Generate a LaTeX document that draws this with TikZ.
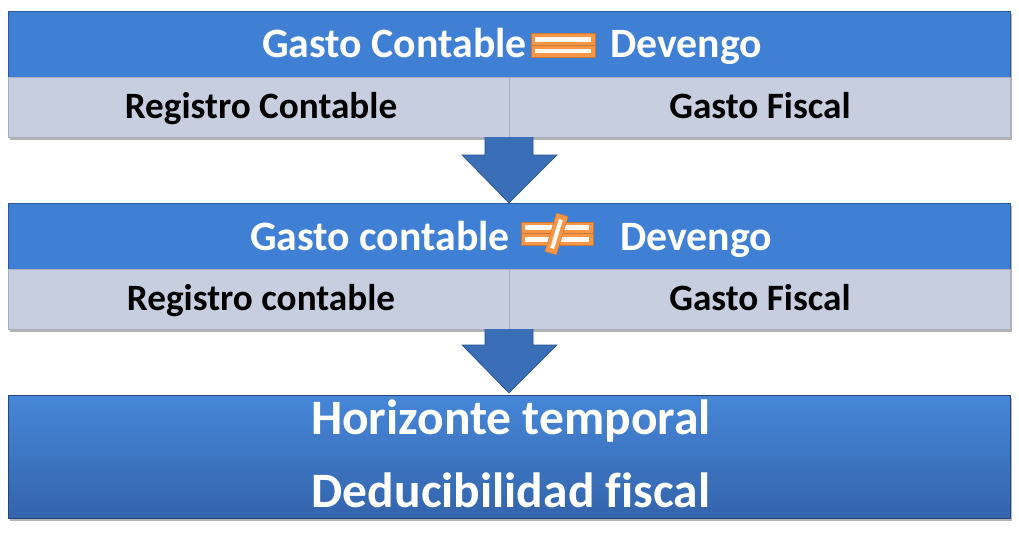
\documentclass[tikz,border=0pt]{standalone}
\usepackage{fontspec}
\setmainfont{Carlito}[Ligatures=NoCommon]
\definecolor{hblue}{RGB}{64,128,212}
\definecolor{lrow}{RGB}{198,206,224}
\definecolor{arrblue}{RGB}{58,111,183}
\definecolor{arredge}{RGB}{40,80,140}
\definecolor{eqor}{RGB}{247,150,70}
\definecolor{btop}{RGB}{70,135,216}
\definecolor{bbot}{RGB}{52,100,172}
\tikzset{
  header/.style={fill=hblue,draw=hblue!70!black,line width=0.6pt,minimum width=1002pt,minimum height=66pt,inner sep=0pt},
  cell/.style={fill=lrow,draw=lrow!85!black,line width=0.5pt,minimum width=501pt,minimum height=60pt,inner sep=0pt},
  htext/.style={text=white,font=\bfseries\fontsize{41.8}{45}\selectfont,inner sep=0pt},
  ctext/.style={text=black,font=\bfseries\fontsize{37.2}{40}\selectfont,inner sep=0pt},
  btext/.style={text=white,font=\bfseries\fontsize{49.5}{52}\selectfont,inner sep=0pt},
  blockarrow/.style={fill=arrblue,draw=arredge,line width=0.6pt},
  eqbox/.style={fill=eqor,draw=eqor!80!black,line width=0.4pt},
  eqbar/.style={fill=white!94!eqor,draw=none},
}
\begin{document}
\begin{tikzpicture}[x=1pt,y=-1pt]
\useasboundingbox (0,0) rectangle (1019,535);
\fill[white] (0,0) rectangle (1019,535);
% block 1
\fill[black,opacity=0.3] (10,14) rectangle (1012,140);
\node[header] (h1) at (509,44) {};
\node[cell] (c1l) at (258.5,107) {};
\node[cell] (c1r) at (759.5,107) {};
\node[htext,anchor=base east] (t1a) at (527,58) {Gasto Contable};
\node[htext,anchor=base west] (t1b) at (610,58) {Devengo};
\node[ctext,anchor=base] (r1l) at (261,118) {Registro Contable};
\node[ctext,anchor=base] (r1r) at (760,118) {Gasto Fiscal};
% equals sign
\draw[eqbox] (531,33) rectangle (595,45);
\draw[eqbox] (531,45) rectangle (595,57);
\fill[eqbar] (535,37) rectangle (591,42);
\fill[eqbar] (535,49) rectangle (591,53);
% arrow 1
\draw[blockarrow] (485,137) -- (485,155) -- (462,155) -- (509,203) -- (557,155) -- (533,155) -- (533,137);
% block 2
\fill[black,opacity=0.3] (10,206) rectangle (1012,332);
\node[header] (h2) at (509,236) {};
\node[cell] (c2l) at (258.5,299) {};
\node[cell] (c2r) at (759.5,299) {};
\node[htext,anchor=base east] (t2a) at (510,250) {Gasto contable};
\node[htext,anchor=base west] (t2b) at (620,250) {Devengo};
\node[ctext,anchor=base] (r2l) at (261,310) {Registro contable};
\node[ctext,anchor=base] (r2r) at (760,310) {Gasto Fiscal};
% not-equals sign
\draw[eqbox] (521,222) rectangle (593,233.5);
\draw[eqbox] (521,233.5) rectangle (593,245);
\fill[eqbar] (525,225) rectangle (589,229.5);
\fill[eqbar] (525,237) rectangle (589,241.5);
\begin{scope}[shift={(556.5,234)},rotate=-17]
\draw[eqbox] (-6,-20) rectangle (6,20);
\fill[eqbar] (-2,-15) rectangle (2,15);
\end{scope}
% arrow 2
\draw[blockarrow] (485,329) -- (485,345) -- (462,345) -- (509,393) -- (557,345) -- (533,345) -- (533,329);
% block 3
\fill[black,opacity=0.3] (10,398) rectangle (1012,521);
\node[draw=bbot!70!black,line width=0.6pt,top color=btop,bottom color=bbot,minimum width=1002pt,minimum height=123pt,inner sep=0pt] (b3) at (509,456.5) {};
\node[btext,anchor=base] (b3a) at (511,434) {Horizonte temporal};
\node[btext,anchor=base] (b3b) at (511,507) {Deducibilidad fiscal};
\end{tikzpicture}
\end{document}
